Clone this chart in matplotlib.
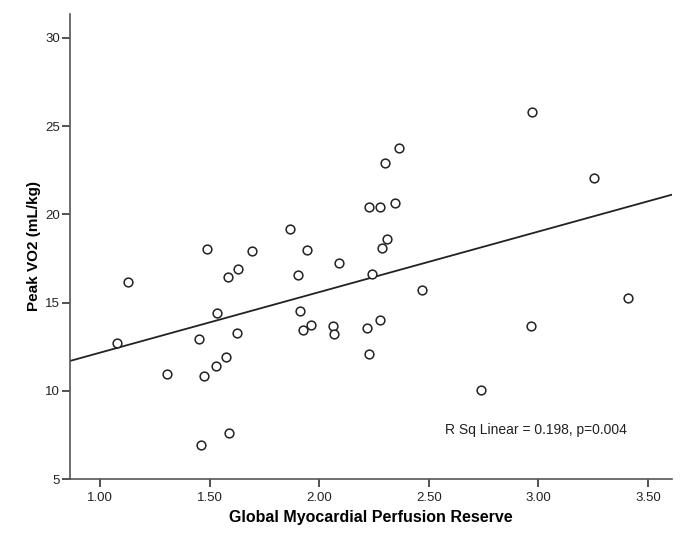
import numpy as np
import matplotlib
matplotlib.use("Agg")
import matplotlib.pyplot as plt
from matplotlib.ticker import FixedLocator, FormatStrFormatter

plt.rcParams['font.family'] = ['Liberation Sans', 'DejaVu Sans']

# Global myocardial perfusion reserve vs peak VO2
mpr = [1.076, 1.129, 1.307, 1.452, 1.474, 1.462, 1.532, 1.528, 1.573, 1.588,
       1.585, 1.630, 1.625, 1.905, 1.914, 1.926, 1.961, 2.061, 2.069, 2.089,
       2.218, 2.226, 2.239, 2.279, 2.467, 2.965, 2.738, 3.409, 2.227, 2.277,
       1.868, 1.487, 1.693, 1.944, 2.969, 2.364, 2.298, 2.347, 3.254, 2.309,
       2.288]
peak_vo2 = [12.73, 16.17, 10.97, 12.92, 10.82, 6.95, 14.39, 11.41, 11.92, 7.61,
            16.43, 16.89, 13.30, 16.55, 14.54, 13.45, 13.71, 13.67, 13.24, 17.24,
            13.56, 12.10, 16.62, 14.01, 15.73, 13.69, 10.06, 15.26, 20.44, 20.40,
            19.19, 18.04, 17.93, 18.00, 25.77, 23.78, 22.88, 20.65, 22.06, 18.59,
            18.11]

x_ticks = [1.0, 1.5, 2.0, 2.5, 3.0, 3.5]
y_ticks = [5, 10, 15, 20, 25, 30]
fit_label = "R Sq Linear = 0.198, p=0.004"

x = np.array(mpr)
y = np.array(peak_vo2)

fig = plt.figure(figsize=(6.85, 5.5), dpi=100)
ax = fig.add_axes([0.102, 0.129, 0.879, 0.846])

ax.plot(x, y, linestyle='none', marker='o', markersize=6.3,
        markerfacecolor='white', markeredgecolor='#222222', markeredgewidth=1.1,
        zorder=3)

# linear fit across the full x range
xlim = (0.863, 3.609)
slope, intercept = np.polyfit(x, y, 1)
xs = np.array(xlim)
ax.plot(xs, slope * xs + intercept, color='#222222', linewidth=1.3, zorder=2)

ax.set_xlim(*xlim)
ax.set_ylim(5, 31.36)
ax.xaxis.set_major_locator(FixedLocator(x_ticks))
ax.xaxis.set_major_formatter(FormatStrFormatter('%.2f'))
ax.yaxis.set_major_locator(FixedLocator(y_ticks))

for side in ['top', 'right']:
    ax.spines[side].set_visible(False)
for side in ['left', 'bottom']:
    ax.spines[side].set_color('#555555')
    ax.spines[side].set_linewidth(1.2)

ax.tick_params(direction='out', length=6, width=1.2, colors='#333333',
               labelsize=9.5, labelcolor='#222222')
ax.tick_params(axis='y', pad=1)
ax.tick_params(axis='x', pad=3)

ax.set_xlabel("Global Myocardial Perfusion Reserve", fontsize=11.5,
              fontweight='bold', labelpad=5)
ax.set_ylabel("Peak VO2 (mL/kg)", fontsize=11, fontweight='bold', labelpad=3)

ax.text(2.574, 7.78, fit_label, fontsize=10, va='center', ha='left',
        color='#222222')

fig.savefig("out.png", dpi=100)
